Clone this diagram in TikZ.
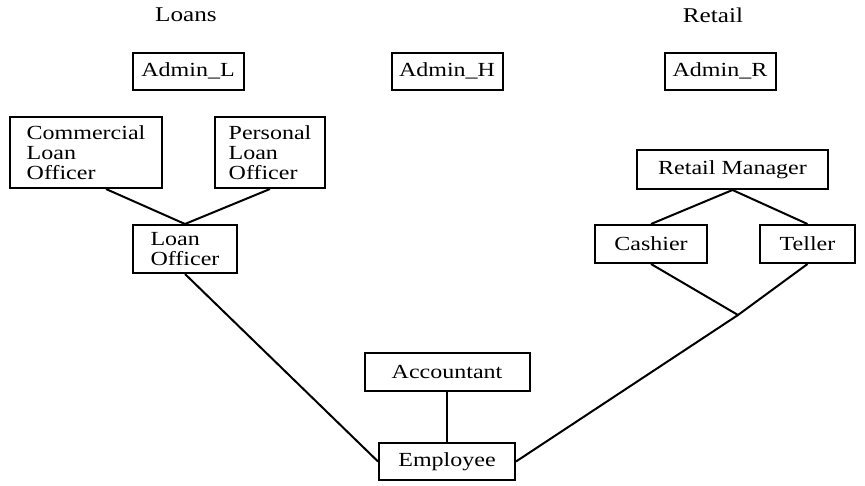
\documentclass[tikz,border=0pt]{standalone}
\usepackage{fontspec}
\setmainfont{Liberation Serif}[FakeStretch=1.2]

\begin{document}
\begin{tikzpicture}[x=1pt,y=-1pt,
    role/.style={draw, line width=2pt, font=\fontsize{20}{20}\selectfont,
        inner sep=0pt, minimum height=37pt},
    group/.style={font=\fontsize{21}{21}\selectfont},
    link/.style={line width=2pt}]
    \useasboundingbox (0,0) rectangle (865,485);

    % group headings
    \node[group] (loans) at (186,15) {Loans};
    \node[group] (retail) at (713,15) {Retail};

    % administrators
    \node[role, minimum width=111pt] (adminL) at (188,71) {Admin\_L};
    \node[role, minimum width=111pt] (adminH) at (447,71) {Admin\_H};
    \node[role, minimum width=111pt] (adminR) at (720,71) {Admin\_R};

    % loans side
    \node[role, align=left, minimum width=152pt, minimum height=71pt] (comLoan) at (86,152.5) {Commercial\\Loan\\Officer};
    \node[role, align=left, minimum width=110pt, minimum height=71pt] (persLoan) at (270,152.5) {Personal\\Loan\\Officer};
    \node[role, align=left, minimum width=104pt, minimum height=48pt] (loanOff) at (185,249) {Loan\\Officer};

    % retail side
    \node[role, minimum width=191pt, minimum height=39pt] (retMgr) at (732.5,169.5) {Retail Manager};
    \node[role, minimum width=112pt, minimum height=38pt] (cashier) at (651,244) {Cashier};
    \node[role, minimum width=95pt, minimum height=38pt] (teller) at (807.5,244) {Teller};
    \coordinate (join) at (738,315);

    % head office
    \node[role, minimum width=165pt, minimum height=38pt] (acct) at (447,372) {Accountant};
    \node[role, minimum width=136pt] (emp) at (447,461.5) {Employee};

    % connectors
    \draw[link] ([xshift=20pt]comLoan.south) -- (loanOff.north);
    \draw[link] (persLoan.south) -- (loanOff.north);
    \draw[link] (loanOff.south) -- (emp.west);
    \draw[link] (acct.south) -- (emp.north);
    \draw[link] (retMgr.south) -- (cashier.north);
    \draw[link] (retMgr.south) -- (teller.north);
    \draw[link] (cashier.south) -- (join) -- (teller.south);
    \draw[link] (join) -- (emp.east);
\end{tikzpicture}
\end{document}
